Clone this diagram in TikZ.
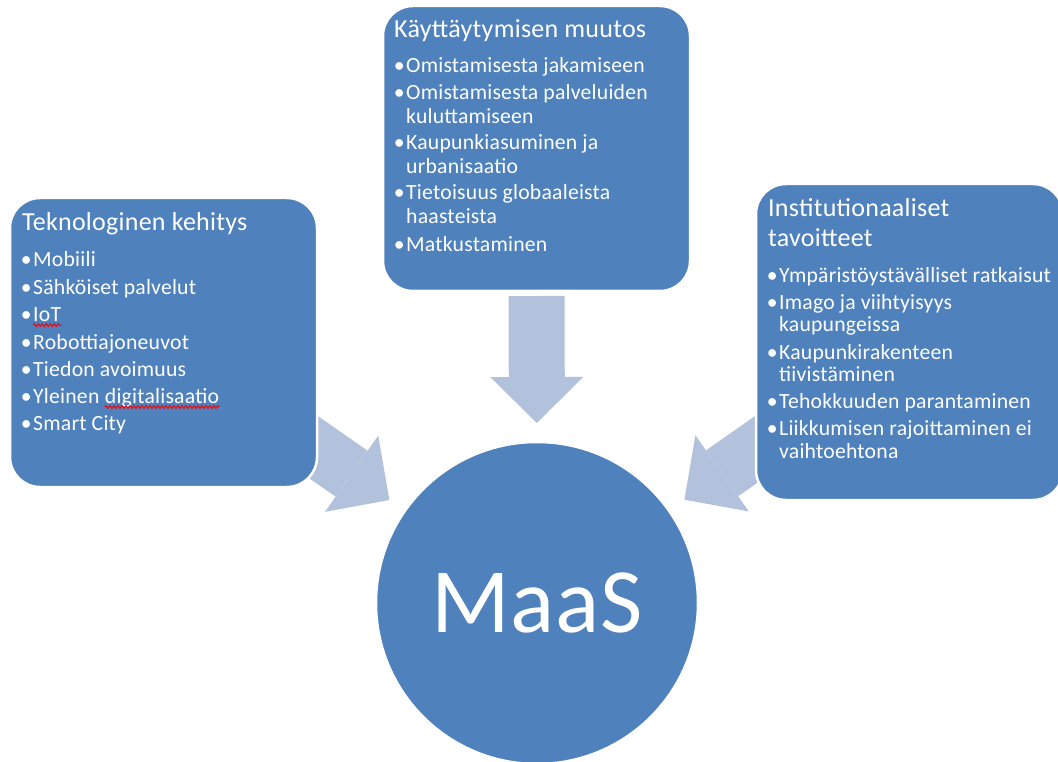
\documentclass[tikz,border=0pt]{standalone}
\usepackage{fontspec}
\setmainfont{Carlito}[LetterSpace=1]
\usetikzlibrary{calc,arrows.meta,backgrounds,decorations.pathmorphing}

\definecolor{boxblue}{RGB}{79,129,189}
\definecolor{arrowblue}{RGB}{179,194,220}

\newcommand{\blt}{\llap{\textbullet\hspace{1.5pt}}}

\tikzset{
  topic/.style={draw=white, line width=2.5pt, fill=boxblue, rounded corners=30pt, minimum width=307pt, inner sep=0pt},
  heading/.style={anchor=base west, inner sep=0pt, text=white, font=\fontsize{26}{30}\selectfont},
  point/.style={anchor=base west, inner sep=0pt, text=white, font=\fontsize{21.7}{26}\selectfont},
  hub/.style={circle, fill=boxblue, draw=white, line width=2.5pt, minimum size=322pt, inner sep=0pt, text=white, font=\fontsize{92}{100}\selectfont},
  feed/.style={draw=arrowblue, line width=56pt, -{Triangle[width=93pt,length=46pt,line width=0pt]}},
  typo/.style={draw=red, line width=1pt, decorate, decoration={snake, amplitude=1.4pt, segment length=4pt}}
}

\begin{document}
\begin{tikzpicture}[x=1pt,y=-1pt]
                \useasboundingbox (0,0) rectangle (1058,762);
                % the three boxes and the hub
                \node[topic, minimum height=289pt] (teknologia) at (163.5,342.5) {};
                \node[topic, minimum height=285pt] (muutos) at (536.5,148.5) {};
                \node[topic, minimum height=316pt] (tavoitteet) at (909.5,342) {};
                \node[hub] (maas) at (537,603) {MaaS};
                % block arrows towards the hub
                \begin{scope}[on background layer]
                \draw[feed] ($(maas)!307pt!(teknologia)$) -- ($(maas)!180pt!(teknologia)$);
                \draw[feed] ($(maas)!307pt!(muutos)$) -- ($(maas)!180pt!(muutos)$);
                \draw[feed] ($(maas)!307pt!(tavoitteet)$) -- ($(maas)!180pt!(tavoitteet)$);
                \end{scope}
                % left box
                \node[heading] (tk-title) at (22,231) {Teknologinen kehitys};
                \node[point] (tk-1) at (33,267) {\blt Mobiili};
                \node[point] (tk-2) at (33,294.3) {\blt Sähköiset palvelut};
                \node[point] (tk-3) at (33,321.6) {\blt IoT};
                \node[point] (tk-4) at (33,349) {\blt Robottiajoneuvot};
                \node[point] (tk-5) at (33,376.2) {\blt Tiedon avoimuus};
                \node[point] (tk-6) at (33,403.5) {\blt Yleinen};
                \node[point] (tk-6b) at ([xshift=5.1pt]tk-6.base east) {digitalisaatio};
                \node[point] (tk-7) at (33,430.8) {\blt Smart City};
                \draw[typo] ([yshift=-3.5pt]tk-3.base west) -- ([yshift=-3.5pt]tk-3.base east);
                \draw[typo] ([yshift=-3.5pt]tk-6b.base west) -- ([yshift=-3.5pt]tk-6b.base east);
                % top box
                \node[heading] (km-title) at (394,37.7) {Käyttäytymisen muutos};
                \node[point] (km-1) at (406,72.3) {\blt Omistamisesta jakamiseen};
                \node[point] (km-2) at (406,100) {\blt Omistamisesta palveluiden};
                \node[point] (km-3) at (406,123.3) {kuluttamiseen};
                \node[point] (km-4) at (406,150) {\blt Kaupunkiasuminen ja};
                \node[point] (km-5) at (406,173.3) {urbanisaatio};
                \node[point] (km-6) at (406,200) {\blt Tietoisuus globaaleista};
                \node[point] (km-7) at (406,223.3) {haasteista};
                \node[point] (km-8) at (406,251.7) {\blt Matkustaminen};
                % right box
                \node[heading] (it-title) at (768,217) {Institutionaaliset};
                \node[heading] (it-title2) at (768,247) {tavoitteet};
                \node[point] (it-1) at (779,282.3) {\blt Ympäristöystävälliset ratkaisut};
                \node[point] (it-2) at (779,309.3) {\blt Imago ja viihtyisyys};
                \node[point] (it-3) at (779,331.7) {kaupungeissa};
                \node[point] (it-4) at (779,359.3) {\blt Kaupunkirakenteen};
                \node[point] (it-5) at (779,381.7) {tiivistäminen};
                \node[point] (it-6) at (779,408.3) {\blt Tehokkuuden parantaminen};
                \node[point] (it-7) at (779,435) {\blt Liikkumisen rajoittaminen ei};
                \node[point] (it-8) at (779,458.3) {vaihtoehtona};
\end{tikzpicture}
\end{document}
